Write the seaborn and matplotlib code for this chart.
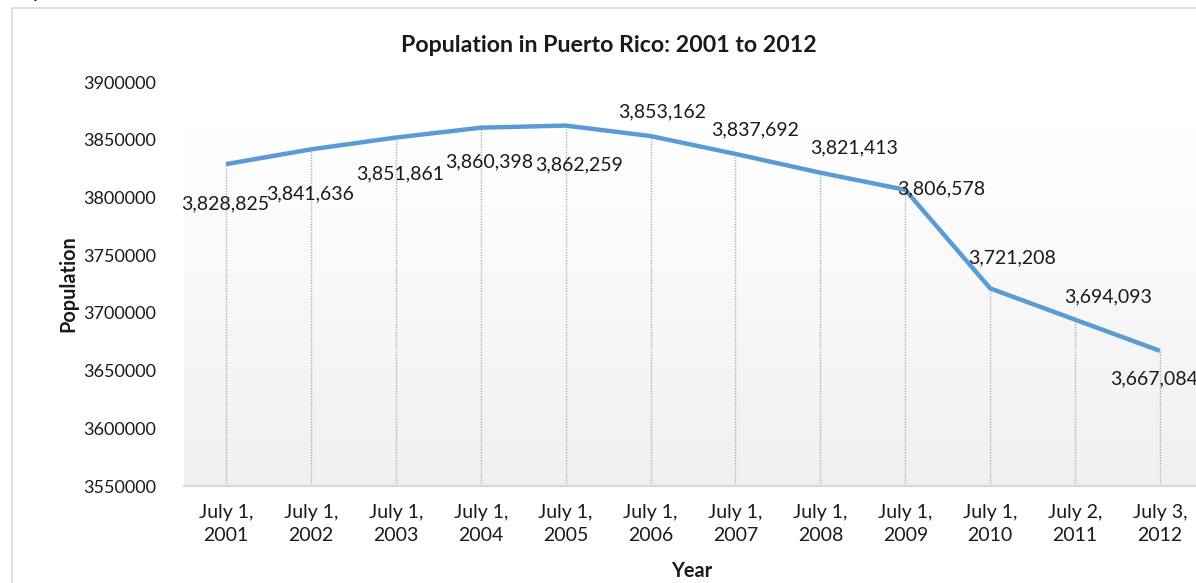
import numpy as np
import matplotlib
matplotlib.use("Agg")
import matplotlib.pyplot as plt
import seaborn as sns
from matplotlib.patches import Rectangle
from matplotlib.colors import LinearSegmentedColormap

# Data
dates = ["July 1,\n2001", "July 1,\n2002", "July 1,\n2003", "July 1,\n2004",
         "July 1,\n2005", "July 1,\n2006", "July 1,\n2007", "July 1,\n2008",
         "July 1,\n2009", "July 1,\n2010", "July 2,\n2011", "July 3,\n2012"]
population = [3828825, 3841636, 3851861, 3860398, 3862259, 3853162,
              3837692, 3821413, 3806578, 3721208, 3694093, 3667084]
y_ticks = [3550000, 3600000, 3650000, 3700000, 3750000, 3800000, 3850000, 3900000]

# Label placement (pixel offsets from each point: dx right, dy up)
label_offsets = [(-1, -40), (-1, -45), (4, -36), (8, -34), (13, -39), (12, 24),
                 (20, 24), (34, 25), (36, 1), (22, 31), (33, 23), (-6, -28)]

sns.set_theme(style="white")
plt.rcParams["font.family"] = ["Lato", "DejaVu Sans"]

W, H = 1196, 583
fig = plt.figure(figsize=(W / 100, H / 100), dpi=100)

# Chart frame
fig.patches.append(Rectangle((12 / W, -0.05), 1.2, 1 - 8 / H + 0.05,
                             transform=fig.transFigure, fill=False,
                             edgecolor="#d9d9d9", linewidth=1.2))
fig.text(2 / W, 1 + 7 / H, "Graph", fontsize=14, color="black",
         ha="left", va="center")

left, right = 183.5, 1202.5
top, bottom = 82, 486
ax = fig.add_axes([left / W, 1 - bottom / H, (right - left) / W, (bottom - top) / H])

x = np.arange(len(dates))
ax.set_xlim(-0.5, len(dates) - 0.5)
ax.set_ylim(y_ticks[0], y_ticks[-1])

# Plot-area gradient (white at top to light grey at the bottom)
grad_cmap = LinearSegmentedColormap.from_list(
    "bg", [(0.0, "#ffffff"), (0.12, "#ffffff"), (1.0, "#f0f0f0")])
grad = np.linspace(0, 1, 256).reshape(-1, 1)
ax.imshow(grad, cmap=grad_cmap, aspect="auto", extent=(0, 1, 0, 1),
          origin="upper", transform=ax.transAxes, zorder=0,
          interpolation="bilinear")

# Drop lines
ax.vlines(x, y_ticks[0], population, colors="#b0b0b0", linestyles=(0, (1, 1)),
          linewidth=1.0, zorder=1)

sns.lineplot(x=x, y=population, ax=ax, color="#5b9bd5", linewidth=3.2,
             zorder=3, solid_capstyle="butt", solid_joinstyle="miter")

for xi, yi, (dx, dy) in zip(x, population, label_offsets):
    ax.annotate(f"{yi:,}", (xi, yi), xytext=(dx, dy), textcoords="offset pixels",
                ha="center", va="center", fontsize=14, color="#1a1a1a",
                zorder=4, annotation_clip=False)

ax.set_xticks(x)
ax.set_xticklabels(dates, fontsize=14, color="#1a1a1a", linespacing=1.4)
ax.set_yticks(y_ticks)
ax.set_yticklabels([str(v) for v in y_ticks], fontsize=13, color="#1a1a1a")
ax.tick_params(axis="both", length=0)
ax.tick_params(axis="y", pad=20)
ax.tick_params(axis="x", pad=13)

for s in ["left", "right", "top"]:
    ax.spines[s].set_visible(False)
ax.spines["bottom"].set_color("#d9d9d9")
ax.spines["bottom"].set_linewidth(1.6)
ax.grid(False)

ax.set_xlabel("")
ax.set_ylabel("")
fig.text(609 / W, 1 - 45 / H, "Population in Puerto Rico: 2001 to 2012",
         ha="center", va="center", fontsize=16.7, fontweight="bold", color="#1a1a1a")
fig.text(68 / W, 1 - 284 / H, "Population", rotation=90, ha="center",
         va="center", fontsize=14.3, fontweight="bold", color="#1a1a1a")
fig.text(692 / W, 1 - 571 / H, "Year", ha="center", va="center",
         fontsize=14.3, fontweight="bold", color="#1a1a1a")

fig.savefig("out.png", dpi=100)
